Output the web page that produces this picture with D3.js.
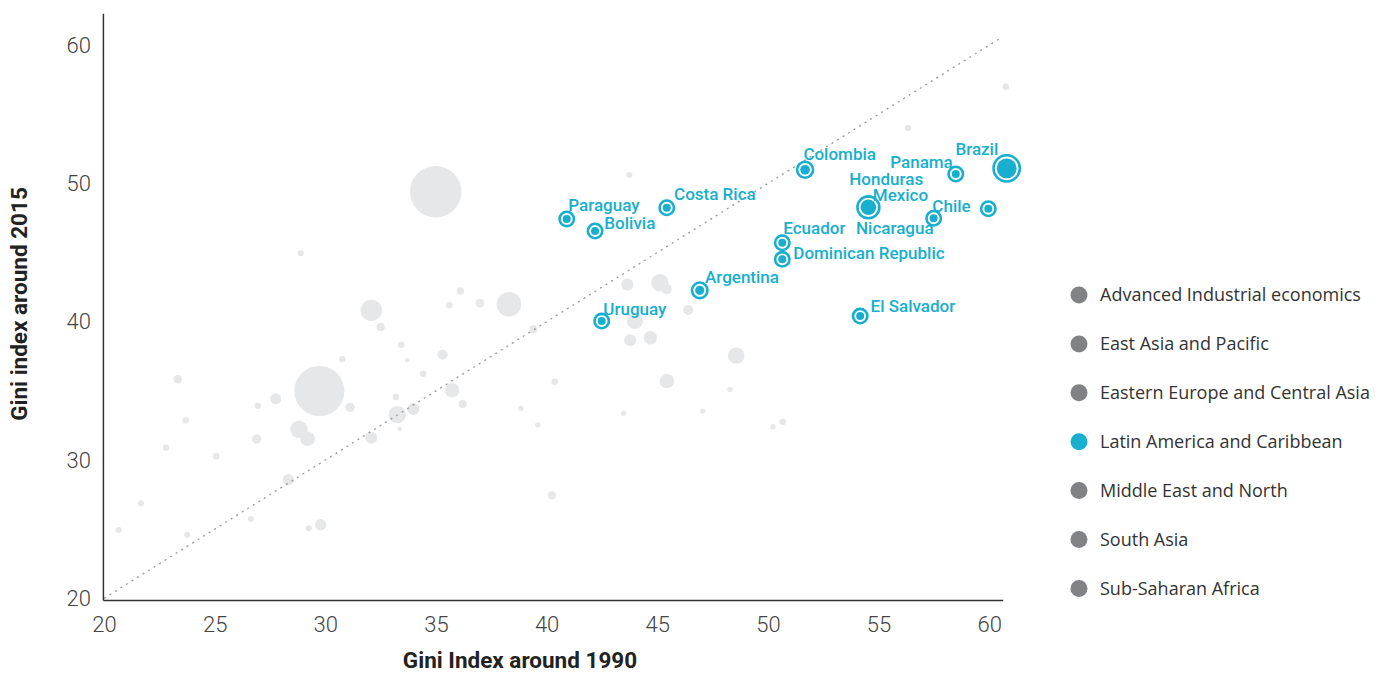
<!DOCTYPE html>
<html>
<head>
<meta charset="utf-8">
<script src="https://cdn.jsdelivr.net/npm/d3@7"></script>
<style>
  body { margin: 0; background: #fff; }
  #chart text { font-family: Roboto, sans-serif; }
  .tick text { font-weight: 300; font-size: 22px; fill: #444; }
  .domain { stroke: #333; stroke-width: 1.5; }
  .country-label { font-size: 17px; font-weight: 500; fill: #17afcd; }
  .axis-title { font-size: 22.5px; font-weight: 700; fill: #222; }
  .legend text { font-family: "Open Sans", sans-serif !important; font-size: 18px; fill: #333; }
</style>
</head>
<body>
<div id="chart"></div>
<script>
// other regions (grey bubbles): Gini ~1990, Gini ~2015, population (millions)
var otherGini1990 = [23.33, 27.76, 29.73, 26.95, 23.69, 28.81, 29.20, 26.90, 22.80, 25.07,
  28.33, 21.67, 26.64, 20.66, 23.76, 29.25, 29.79, 36.10, 35.60, 36.99,
  38.30, 32.08, 32.50, 33.43, 30.77, 33.71, 35.30, 34.42, 33.19, 35.73,
  31.12, 33.98, 36.21, 33.25, 33.36, 32.08, 39.40, 40.37, 38.83, 39.60,
  43.65, 45.12, 45.43, 46.40, 43.99, 43.78, 44.69, 48.57, 45.44, 48.29,
  43.48, 47.05, 50.67, 50.23, 43.74, 56.33, 60.75, 34.99, 28.89, 40.24];
var otherGini2015 = [35.84, 34.43, 34.99, 33.93, 32.87, 32.22, 31.54, 31.52, 30.89, 30.27,
  28.58, 26.87, 25.73, 24.94, 24.60, 25.06, 25.32, 42.22, 41.19, 41.33,
  41.26, 40.82, 39.62, 38.34, 37.30, 37.21, 37.61, 36.24, 34.56, 35.06,
  33.81, 33.69, 34.05, 33.28, 32.26, 31.61, 39.45, 35.66, 33.74, 32.53,
  42.70, 42.82, 42.36, 40.85, 40.05, 38.66, 38.84, 37.54, 35.71, 35.11,
  33.38, 33.54, 32.77, 32.41, 50.61, 54.01, 56.99, 49.40, 44.95, 27.45];
var otherPop = [38, 63, 1300, 22, 22, 157, 110, 46, 22, 22,
  67, 19, 19, 19, 19, 19, 67, 28, 22, 38,
  313, 237, 38, 22, 22, 11, 52, 22, 22, 110,
  46, 75, 33, 157, 11, 75, 33, 22, 15, 15,
  75, 157, 52, 52, 132, 75, 93, 143, 110, 15,
  15, 15, 22, 15, 19, 22, 22, 1370, 19, 33];

// Latin America and Caribbean
var latamNames = ["Paraguay", "Bolivia", "Costa Rica", "Colombia", "Panama", "Brazil",
  "Nicaragua", "Mexico", "Chile", "Honduras", "Ecuador", "Dominican Republic",
  "Argentina", "Uruguay", "El Salvador"];
var latamGini1990 = [40.91, 42.19, 45.43, 51.68, 58.49, 60.79, 54.54, 54.54, 57.49, 59.96,
  50.65, 50.65, 46.92, 42.49, 54.17];
var latamGini2015 = [47.43, 46.56, 48.24, 50.99, 50.68, 51.09, 48.27, 48.27, 47.48, 48.17,
  45.71, 44.51, 42.27, 40.05, 40.41];
var latamPop = [6.6, 10.7, 4.8, 48, 4, 205, 6.2, 125, 17.8, 9, 16.1, 10.5, 43, 3.4, 6.3];

var regions = ["Advanced Industrial economics", "East Asia and Pacific",
  "Eastern Europe and Central Asia", "Latin America and Caribbean",
  "Middle East and North", "South Asia", "Sub-Saharan Africa"];
var highlighted = "Latin America and Caribbean";

var xTicks = [20, 25, 30, 35, 40, 45, 50, 55, 60];
var yTicks = [20, 30, 40, 50, 60];

// label placement relative to each point: [dx, dy, anchor]
var labelPlace = {
  "Paraguay": [1.6, -8.3, "start"],
  "Bolivia": [9.3, -2, "start"],
  "Costa Rica": [7.3, -7.7, "start"],
  "Colombia": [-1.7, -9.7, "start"],
  "Panama": [-3, -5.7, "end"],
  "Brazil": [-8.4, -13.3, "end"],
  "Nicaragua": [-12.3, 26.7, "start"],
  "Mexico": [4.4, -6.8, "start"],
  "Chile": [-1.3, -6.6, "start"],
  "Honduras": [-139, -24, "start"],
  "Ecuador": [1, -8.7, "start"],
  "Dominican Republic": [11, 0, "start"],
  "Argentina": [5.3, -7.6, "start"],
  "Uruguay": [1.6, -6, "start"],
  "El Salvador": [10.4, -4.3, "start"]
};

var teal = "#17afcd", greyBubble = "#e6e7e8", greyLegend = "#808285";

var width = 1386, height = 673;

var svg = d3.select("#chart").append("svg")
  .attr("width", width)
  .attr("height", height);

var x = d3.scaleLinear().domain([19.95, 60.61]).range([102.9, 1002.7]);
var y = d3.scaleLinear().domain([19.88, 62.3]).range([600, 13.3]);
var r = d3.scaleSqrt().domain([0, 1400]).range([0, 26]);

// grey bubbles
var others = otherGini1990.map(function (d, i) {
  return {x: d, y: otherGini2015[i], pop: otherPop[i]};
});
svg.append("g").selectAll("circle")
  .data(others)
  .enter().append("circle")
  .attr("cx", function (d) { return x(d.x); })
  .attr("cy", function (d) { return y(d.y); })
  .attr("r", function (d) { return r(d.pop); })
  .attr("fill", greyBubble);

// 45 degree reference line
svg.append("line")
  .attr("x1", x(20)).attr("y1", y(20))
  .attr("x2", x(60.45)).attr("y2", y(60.45))
  .attr("stroke", "#999")
  .attr("stroke-width", 1.3)
  .attr("stroke-dasharray", "2,4.5");

// axes
svg.append("g")
  .attr("transform", "translate(0,600)")
  .call(d3.axisBottom(x).tickValues(xTicks).tickSize(0).tickPadding(16).tickSizeOuter(0));

svg.append("g")
  .attr("transform", "translate(102.9,0)")
  .call(d3.axisLeft(y).tickValues(yTicks).tickSize(0).tickPadding(12).tickSizeOuter(0));

// latin america points
var latam = latamNames.map(function (n, i) {
  return {name: n, x: latamGini1990[i], y: latamGini2015[i], pop: latamPop[i]};
});
var dotR = function (d) { return Math.max(4, r(d.pop)); };

var pt = svg.append("g").selectAll("g")
  .data(latam)
  .enter().append("g")
  .attr("transform", function (d) {
    return "translate(" + x(d.x) + "," + y(d.y) + ")";
  });
pt.append("circle")
  .attr("r", function (d) { return dotR(d) + 3.2; })
  .attr("fill", "#fff")
  .attr("stroke", teal)
  .attr("stroke-width", 2.6);
pt.append("circle")
  .attr("r", dotR)
  .attr("fill", teal);

svg.append("g").selectAll("text")
  .data(latam)
  .enter().append("text")
  .attr("class", "country-label")
  .attr("x", function (d) { return x(d.x) + labelPlace[d.name][0]; })
  .attr("y", function (d) { return y(d.y) + labelPlace[d.name][1]; })
  .attr("text-anchor", function (d) { return labelPlace[d.name][2]; })
  .text(function (d) { return d.name; });

// axis titles
svg.append("text")
  .attr("class", "axis-title")
  .attr("x", 520)
  .attr("y", 668)
  .attr("text-anchor", "middle")
  .text("Gini Index around 1990");

svg.append("text")
  .attr("class", "axis-title")
  .attr("transform", "translate(27,304) rotate(-90)")
  .attr("text-anchor", "middle")
  .text("Gini index around 2015");

// legend
var legend = svg.append("g")
  .attr("class", "legend")
  .selectAll("g")
  .data(regions)
  .enter().append("g")
  .attr("transform", function (d, i) {
    return "translate(1079," + (295 + i * 48.9) + ")";
  });
legend.append("circle")
  .attr("r", 8.5)
  .attr("fill", function (d) { return d == highlighted ? teal : greyLegend; });
legend.append("text")
  .attr("x", 21)
  .attr("dy", "0.35em")
  .text(function (d) { return d; });
</script>
</body>
</html>
